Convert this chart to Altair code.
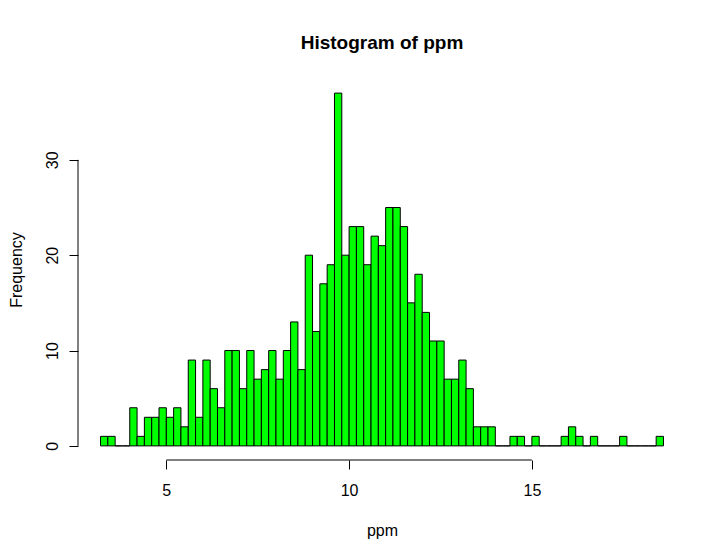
import altair as alt
import pandas as pd

# ---- data ----
BIN_START = 3.2
BIN_WIDTH = 0.2
COUNTS = [1, 1, 0, 0, 4, 1, 3, 3, 4, 3,
          4, 2, 9, 3, 9, 6, 4, 10, 10, 6,
          10, 7, 8, 10, 7, 10, 13, 8, 20, 12,
          17, 19, 37, 20, 23, 23, 19, 22, 21, 25,
          25, 23, 15, 18, 14, 11, 11, 7, 7, 9,
          6, 2, 2, 2, 0, 0, 1, 1, 0, 1,
          0, 0, 0, 1, 2, 1, 0, 1, 0, 0,
          0, 1, 0, 0, 0, 0, 1]
X_TICKS = [5, 10, 15]
Y_TICKS = [0, 10, 20, 30]
TITLE = "Histogram of ppm"
X_LABEL = "ppm"
Y_LABEL = "Frequency"

lo = [round(BIN_START + i * BIN_WIDTH, 1) for i in range(len(COUNTS))]
hi = [round(v + BIN_WIDTH, 1) for v in lo]
df = pd.DataFrame({"lo": lo, "hi": hi, "count": COUNTS, "base": [0] * len(COUNTS)})

# R-style 4% axis extension
x_min, x_max = lo[0], hi[-1]
xr = x_max - x_min
x_dom = [x_min - 0.04 * xr, x_max + 0.04 * xr]
y_max = max(COUNTS)
y_dom = [-0.04 * y_max, y_max * 1.04]

W, H = 608, 381
FONT = "Liberation Sans"

x_scale = alt.Scale(domain=x_dom, nice=False, zero=False)
y_scale = alt.Scale(domain=y_dom, nice=False, zero=False)

x_axis = alt.Axis(
    values=X_TICKS, title=X_LABEL, grid=False, domain=False,
    tickSize=9, tickColor="black", tickWidth=1,
    labelFont=FONT, labelFontSize=16, labelColor="black",
    labelPadding=26, labelBaseline="alphabetic", labelFlush=False,
    titleFont=FONT, titleFontSize=16, titleFontWeight="normal",
    titleColor="black", titleY=75, titleBaseline="alphabetic",
)
y_axis = alt.Axis(
    values=Y_TICKS, title=Y_LABEL, grid=False, domain=False,
    tickSize=9, tickColor="black", tickWidth=1,
    labelFont=FONT, labelFontSize=16, labelColor="black",
    labelAngle=270, labelAlign="center", labelBaseline="alphabetic",
    labelPadding=12,
    titleFont=FONT, titleFontSize=16, titleFontWeight="normal",
    titleColor="black", titleAngle=270, titleX=-57,
    titleBaseline="alphabetic", titleAlign="center",
)

bars = alt.Chart(df).mark_rect(
    fill="#00FF00", stroke="black", strokeWidth=1
).encode(
    x=alt.X("lo:Q", scale=x_scale, axis=x_axis),
    x2="hi:Q",
    y=alt.Y("count:Q", scale=y_scale, axis=y_axis),
    y2="base:Q",
)

xline_df = pd.DataFrame({"a": [X_TICKS[0]], "b": [X_TICKS[-1]], "y": [y_dom[0]]})
x_line = alt.Chart(xline_df).mark_rule(color="black", strokeWidth=1).encode(
    x=alt.X("a:Q", scale=x_scale, axis=x_axis),
    x2="b:Q",
    y=alt.Y("y:Q", scale=y_scale, axis=y_axis),
)

yline_df = pd.DataFrame({"x": [x_dom[0]], "a": [Y_TICKS[0]], "b": [Y_TICKS[-1]]})
y_line = alt.Chart(yline_df).mark_rule(color="black", strokeWidth=1).encode(
    x=alt.X("x:Q", scale=x_scale, axis=x_axis),
    y=alt.Y("a:Q", scale=y_scale, axis=y_axis),
    y2="b:Q",
)

chart = alt.layer(bars, x_line, y_line).properties(
    width=W, height=H,
    title=alt.TitleParams(
        TITLE, font=FONT, fontSize=19, fontWeight="bold", color="black",
        anchor="middle", frame="group", offset=11, baseline="alphabetic",
    ),
    autosize=alt.AutoSizeParams(type="none"),
    padding={"left": 70, "top": 71, "right": 30, "bottom": 80},
    background="white",
).configure_view(stroke=None)

chart.save("out.html", embed_options={"renderer": "svg", "actions": False})
